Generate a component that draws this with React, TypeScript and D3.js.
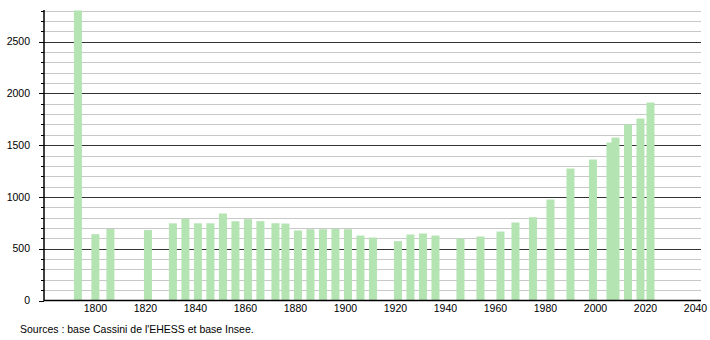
import React from "react";
import * as d3 from "d3";

const years = [1793, 1800, 1806, 1821, 1831, 1836, 1841, 1846, 1851, 1856, 1861, 1866, 1872, 1876, 1881, 1886, 1891, 1896, 1901, 1906, 1911, 1921, 1926, 1931, 1936, 1946, 1954, 1962, 1968, 1975, 1982, 1990, 1999, 2006, 2008, 2013, 2018, 2022];
const population = [2800, 640, 690, 680, 745, 790, 745, 745, 840, 765, 785, 766, 746, 743, 676, 688, 688, 692, 688, 627, 608, 573, 637, 647, 627, 598, 618, 666, 753, 804, 975, 1274, 1361, 1525, 1573, 1699, 1757, 1911];
const xTicks = [1800, 1820, 1840, 1860, 1880, 1900, 1920, 1940, 1960, 1980, 2000, 2020, 2040];
const yTicks = [0, 500, 1000, 1500, 2000, 2500];
const minorStep = 100;
const yMax = 2800;
const sourceText = "Sources : base Cassini de l'EHESS et base Insee.";

const W = 710;
const H = 340;
const left = 44;
const right = 701;
const top = 10.5;
const bottom = 300.5;
const barW = 8;
const font = "'Liberation Sans', Arial, sans-serif";

export default function App() {
  const x = d3.scaleLinear().domain([1779.44, 2042.2]).range([left, right]);
  const y = d3.scaleLinear().domain([0, yMax]).range([bottom, top]);
  const minor = d3.range(minorStep, yMax + 1, minorStep).filter((v) => v % 500 !== 0);
  const major = yTicks.filter((v) => v > 0);
  return (
    <svg width={W} height={H} style={{ position: "absolute", left: 0, top: 0, background: "#fff" }}>
      {minor.map((v) => (
        <line key={"g" + v} x1={left} x2={right} y1={Math.round(y(v)) + 0.5} y2={Math.round(y(v)) + 0.5} stroke="#c8c8c8" strokeWidth={1} />
      ))}
      {major.map((v) => (
        <line key={"G" + v} x1={left} x2={right} y1={Math.round(y(v)) + 0.5} y2={Math.round(y(v)) + 0.5} stroke="#333" strokeWidth={1} />
      ))}
      {years.map((yr, i) => (
        <rect key={yr} x={x(yr) - barW / 2} y={y(Math.min(population[i], yMax))} width={barW} height={y(0) - y(Math.min(population[i], yMax))} fill="#b3e4b1" />
      ))}
      {minor.map((v) => (
        <line key={"t" + v} x1={left - 3} x2={left} y1={Math.round(y(v)) + 0.5} y2={Math.round(y(v)) + 0.5} stroke="#000" strokeWidth={1} />
      ))}
      {yTicks.map((v) => (
        <line key={"T" + v} x1={left - 5} x2={left} y1={Math.round(y(v)) + 0.5} y2={Math.round(y(v)) + 0.5} stroke="#000" strokeWidth={1} />
      ))}
      <line x1={left} x2={left} y1={top - 0.5} y2={bottom + 0.5} stroke="#000" strokeWidth={1.5} />
      <line x1={left} x2={right} y1={bottom} y2={bottom} stroke="#000" strokeWidth={1.5} />
      {yTicks.map((v) => (
        <text key={"l" + v} x={30} y={y(v)} dy="0.35em" textAnchor="end" fontFamily={font} fontSize={10.5} fill="#000">
          {v}
        </text>
      ))}
      {xTicks.map((v) => (
        <text key={"x" + v} x={x(v)} y={312} textAnchor="middle" fontFamily={font} fontSize={10.5} fill="#000">
          {v}
        </text>
      ))}
      <text x={20} y={332.5} fontFamily={font} fontSize={10.5} fill="#000">
        {sourceText}
      </text>
    </svg>
  );
}
